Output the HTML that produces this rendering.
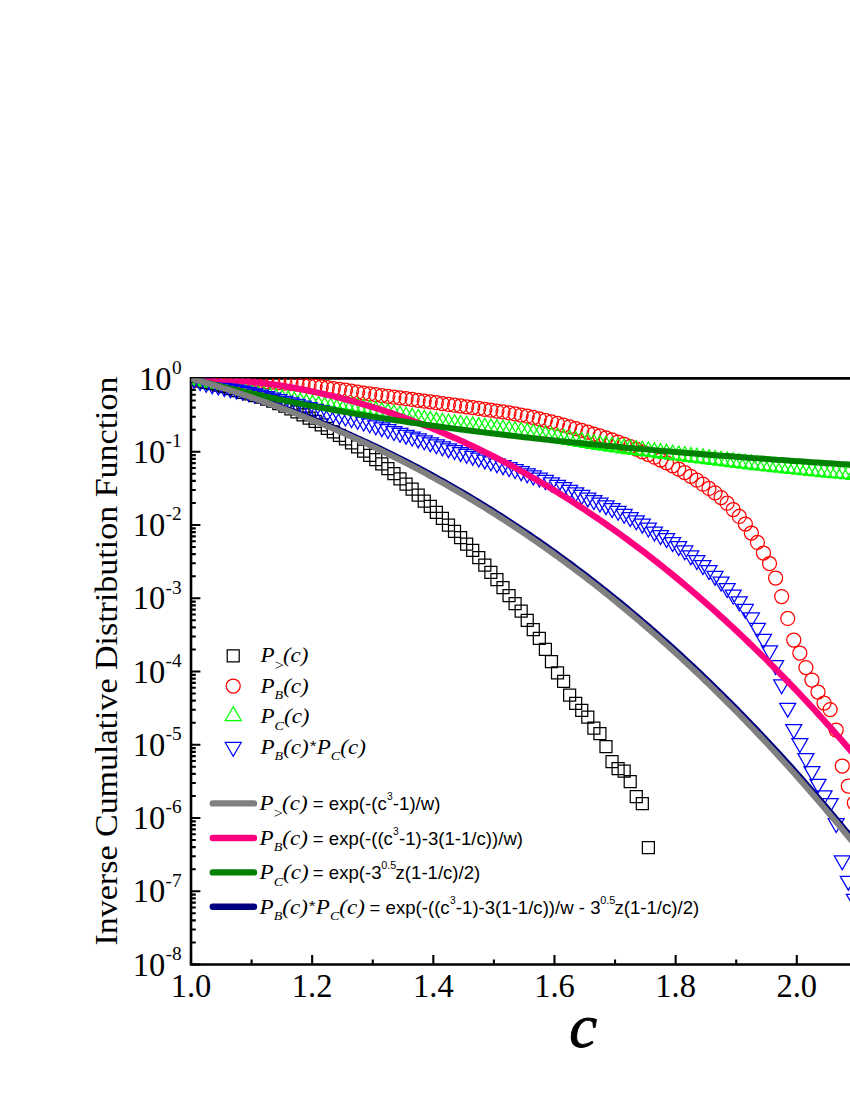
<!DOCTYPE html>
<html><head><meta charset="utf-8"><title>Inverse Cumulative Distribution Function</title>
<style>html,body{margin:0;padding:0;background:#fff}body{width:850px;height:1100px;overflow:hidden;position:relative}svg{position:absolute;left:0;top:0;display:block}text{font-family:"Liberation Serif",serif;fill:#000}.s{font-family:"Liberation Sans",sans-serif}.i{font-style:italic}</style></head><body>
<svg width="850" height="1100" viewBox="0 0 850 1100">
<rect width="850" height="1100" fill="#fff"/>
<defs><clipPath id="cp"><rect x="191.3" y="378.6" width="700" height="585.9"/></clipPath></defs>
<g fill="none" stroke="#000">
<path d="M860 378.4H191V964.5H860" stroke-width="2.6" stroke-linejoin="miter"/>
<path d="M191 378.5h9.4M191 429.7h4.8M191 416.8h4.8M191 407.65h4.8M191 400.55h4.8M191 394.75h4.8M191 389.85h4.8M191 385.6h4.8M191 381.85h4.8M191 451.75h9.4M191 502.95h4.8M191 490.05h4.8M191 480.9h4.8M191 473.8h4.8M191 468h4.8M191 463.1h4.8M191 458.85h4.8M191 455.1h4.8M191 525h9.4M191 576.2h4.8M191 563.3h4.8M191 554.15h4.8M191 547.05h4.8M191 541.25h4.8M191 536.35h4.8M191 532.1h4.8M191 528.35h4.8M191 598.25h9.4M191 649.45h4.8M191 636.55h4.8M191 627.4h4.8M191 620.3h4.8M191 614.5h4.8M191 609.6h4.8M191 605.35h4.8M191 601.6h4.8M191 671.5h9.4M191 722.7h4.8M191 709.8h4.8M191 700.65h4.8M191 693.55h4.8M191 687.75h4.8M191 682.85h4.8M191 678.6h4.8M191 674.85h4.8M191 744.75h9.4M191 795.95h4.8M191 783.05h4.8M191 773.9h4.8M191 766.8h4.8M191 761h4.8M191 756.1h4.8M191 751.85h4.8M191 748.1h4.8M191 818h9.4M191 869.2h4.8M191 856.3h4.8M191 847.15h4.8M191 840.05h4.8M191 834.25h4.8M191 829.35h4.8M191 825.1h4.8M191 821.35h4.8M191 891.25h9.4M191 942.45h4.8M191 929.55h4.8M191 920.4h4.8M191 913.3h4.8M191 907.5h4.8M191 902.6h4.8M191 898.35h4.8M191 894.6h4.8M191 964.5h9.4M191 964.5v-9.6M251.58 964.5v-5M312.16 964.5v-9.6M372.74 964.5v-5M433.32 964.5v-9.6M493.9 964.5v-5M554.48 964.5v-9.6M615.06 964.5v-5M675.64 964.5v-9.6M736.22 964.5v-5M796.8 964.5v-9.6M857.38 964.5v-5" stroke-width="2.1"/>
</g>
<g clip-path="url(#cp)" fill="none" stroke-width="1.25">
<path d="M188.03 374h12v12h-12zM194.09 375.07h12v12h-12zM200.15 376.28h12v12h-12zM206.2 377.62h12v12h-12zM212.26 379.06h12v12h-12zM218.32 380.73h12v12h-12zM224.38 382.6h12v12h-12zM230.44 384.52h12v12h-12zM236.49 386.34h12v12h-12zM242.55 387.97h12v12h-12zM248.61 389.53h12v12h-12zM254.67 391.17h12v12h-12zM260.73 393.04h12v12h-12zM266.78 395.21h12v12h-12zM272.84 397.61h12v12h-12zM278.9 400.21h12v12h-12zM284.96 402.96h12v12h-12zM291.02 405.8h12v12h-12zM297.07 408.8h12v12h-12zM303.13 412h12v12h-12zM309.19 415.35h12v12h-12zM315.25 418.8h12v12h-12zM321.31 422.3h12v12h-12zM327.36 425.81h12v12h-12zM333.42 429.33h12v12h-12zM339.48 432.96h12v12h-12zM345.54 436.75h12v12h-12zM351.6 440.8h12v12h-12zM357.65 445.05h12v12h-12zM363.71 449.35h12v12h-12zM369.77 453.63h12v12h-12zM375.83 457.98h12v12h-12zM381.89 462.57h12v12h-12zM387.94 467.56h12v12h-12zM394 472.81h12v12h-12zM400.06 478h12v12h-12zM406.12 483h12v12h-12zM412.18 489h12v12h-12zM418.23 495h12v12h-12zM424.29 500.4h12v12h-12zM430.35 506.4h12v12h-12zM436.41 512.4h12v12h-12zM442.47 519h12v12h-12zM448.52 525.4h12v12h-12zM454.58 531.6h12v12h-12zM460.64 538h12v12h-12zM466.7 544.4h12v12h-12zM472.76 551.6h12v12h-12zM478.81 559h12v12h-12zM484.87 566.4h12v12h-12zM490.93 573.6h12v12h-12zM496.99 581.6h12v12h-12zM503.05 589.6h12v12h-12zM509.1 597.6h12v12h-12zM515.16 605h12v12h-12zM521.22 614.4h12v12h-12zM527.28 623.6h12v12h-12zM533.34 632.4h12v12h-12zM539.39 643.3h12v12h-12zM545.45 655.5h12v12h-12zM551.51 666.8h12v12h-12zM557.57 675.4h12v12h-12zM563.63 689h12v12h-12zM569.68 697.4h12v12h-12zM575.74 704.4h12v12h-12zM581.8 711h12v12h-12zM587.86 722h12v12h-12zM593.92 727.6h12v12h-12zM599.97 740.6h12v12h-12zM606.03 755.6h12v12h-12zM612.09 762.6h12v12h-12zM618.15 765.2h12v12h-12zM624.21 775.6h12v12h-12zM630.26 790.6h12v12h-12zM636.32 797.6h12v12h-12zM642.38 841.6h12v12h-12z" stroke="#000"/>
<path d="M187.03 379.5a7 7 0 1 0 14 0a7 7 0 1 0 -14 0zM193.09 379.56a7 7 0 1 0 14 0a7 7 0 1 0 -14 0zM199.15 379.65a7 7 0 1 0 14 0a7 7 0 1 0 -14 0zM205.2 379.77a7 7 0 1 0 14 0a7 7 0 1 0 -14 0zM211.26 379.92a7 7 0 1 0 14 0a7 7 0 1 0 -14 0zM217.32 380.09a7 7 0 1 0 14 0a7 7 0 1 0 -14 0zM223.38 380.29a7 7 0 1 0 14 0a7 7 0 1 0 -14 0zM229.44 380.49a7 7 0 1 0 14 0a7 7 0 1 0 -14 0zM235.49 380.72a7 7 0 1 0 14 0a7 7 0 1 0 -14 0zM241.55 380.94a7 7 0 1 0 14 0a7 7 0 1 0 -14 0zM247.61 381.19a7 7 0 1 0 14 0a7 7 0 1 0 -14 0zM253.67 381.49a7 7 0 1 0 14 0a7 7 0 1 0 -14 0zM259.73 381.83a7 7 0 1 0 14 0a7 7 0 1 0 -14 0zM265.78 382.22a7 7 0 1 0 14 0a7 7 0 1 0 -14 0zM271.84 382.64a7 7 0 1 0 14 0a7 7 0 1 0 -14 0zM277.9 383.1a7 7 0 1 0 14 0a7 7 0 1 0 -14 0zM283.96 383.58a7 7 0 1 0 14 0a7 7 0 1 0 -14 0zM290.02 384.12a7 7 0 1 0 14 0a7 7 0 1 0 -14 0zM296.07 384.73a7 7 0 1 0 14 0a7 7 0 1 0 -14 0zM302.13 385.4a7 7 0 1 0 14 0a7 7 0 1 0 -14 0zM308.19 386.12a7 7 0 1 0 14 0a7 7 0 1 0 -14 0zM314.25 386.89a7 7 0 1 0 14 0a7 7 0 1 0 -14 0zM320.31 387.68a7 7 0 1 0 14 0a7 7 0 1 0 -14 0zM326.36 388.5a7 7 0 1 0 14 0a7 7 0 1 0 -14 0zM332.42 389.32a7 7 0 1 0 14 0a7 7 0 1 0 -14 0zM338.48 390.21a7 7 0 1 0 14 0a7 7 0 1 0 -14 0zM344.54 391.18a7 7 0 1 0 14 0a7 7 0 1 0 -14 0zM350.6 392.14a7 7 0 1 0 14 0a7 7 0 1 0 -14 0zM356.65 393.03a7 7 0 1 0 14 0a7 7 0 1 0 -14 0zM362.71 393.88a7 7 0 1 0 14 0a7 7 0 1 0 -14 0zM368.77 394.71a7 7 0 1 0 14 0a7 7 0 1 0 -14 0zM374.83 395.53a7 7 0 1 0 14 0a7 7 0 1 0 -14 0zM380.89 396.33a7 7 0 1 0 14 0a7 7 0 1 0 -14 0zM386.94 397.12a7 7 0 1 0 14 0a7 7 0 1 0 -14 0zM393 397.9a7 7 0 1 0 14 0a7 7 0 1 0 -14 0zM399.06 398.68a7 7 0 1 0 14 0a7 7 0 1 0 -14 0zM405.12 399.47a7 7 0 1 0 14 0a7 7 0 1 0 -14 0zM411.18 400.25a7 7 0 1 0 14 0a7 7 0 1 0 -14 0zM417.23 401.05a7 7 0 1 0 14 0a7 7 0 1 0 -14 0zM423.29 401.86a7 7 0 1 0 14 0a7 7 0 1 0 -14 0zM429.35 402.69a7 7 0 1 0 14 0a7 7 0 1 0 -14 0zM435.41 403.54a7 7 0 1 0 14 0a7 7 0 1 0 -14 0zM441.47 404.37a7 7 0 1 0 14 0a7 7 0 1 0 -14 0zM447.52 405.19a7 7 0 1 0 14 0a7 7 0 1 0 -14 0zM453.58 405.99a7 7 0 1 0 14 0a7 7 0 1 0 -14 0zM459.64 406.8a7 7 0 1 0 14 0a7 7 0 1 0 -14 0zM465.7 407.61a7 7 0 1 0 14 0a7 7 0 1 0 -14 0zM471.76 408.43a7 7 0 1 0 14 0a7 7 0 1 0 -14 0zM477.81 409.27a7 7 0 1 0 14 0a7 7 0 1 0 -14 0zM483.87 410.14a7 7 0 1 0 14 0a7 7 0 1 0 -14 0zM489.93 411.04a7 7 0 1 0 14 0a7 7 0 1 0 -14 0zM495.99 411.97a7 7 0 1 0 14 0a7 7 0 1 0 -14 0zM502.05 412.95a7 7 0 1 0 14 0a7 7 0 1 0 -14 0zM508.1 413.98a7 7 0 1 0 14 0a7 7 0 1 0 -14 0zM514.16 415.08a7 7 0 1 0 14 0a7 7 0 1 0 -14 0zM520.22 416.23a7 7 0 1 0 14 0a7 7 0 1 0 -14 0zM526.28 417.49a7 7 0 1 0 14 0a7 7 0 1 0 -14 0zM532.34 418.85a7 7 0 1 0 14 0a7 7 0 1 0 -14 0zM538.39 420.3a7 7 0 1 0 14 0a7 7 0 1 0 -14 0zM544.45 421.82a7 7 0 1 0 14 0a7 7 0 1 0 -14 0zM550.51 423.43a7 7 0 1 0 14 0a7 7 0 1 0 -14 0zM556.57 425.09a7 7 0 1 0 14 0a7 7 0 1 0 -14 0zM562.63 426.82a7 7 0 1 0 14 0a7 7 0 1 0 -14 0zM568.68 428.59a7 7 0 1 0 14 0a7 7 0 1 0 -14 0zM574.74 430.4a7 7 0 1 0 14 0a7 7 0 1 0 -14 0zM580.8 432.24a7 7 0 1 0 14 0a7 7 0 1 0 -14 0zM586.86 434.1a7 7 0 1 0 14 0a7 7 0 1 0 -14 0zM592.92 435.97a7 7 0 1 0 14 0a7 7 0 1 0 -14 0zM598.97 437.9a7 7 0 1 0 14 0a7 7 0 1 0 -14 0zM605.03 439.92a7 7 0 1 0 14 0a7 7 0 1 0 -14 0zM611.09 442.04a7 7 0 1 0 14 0a7 7 0 1 0 -14 0zM617.15 444.26a7 7 0 1 0 14 0a7 7 0 1 0 -14 0zM623.21 446.58a7 7 0 1 0 14 0a7 7 0 1 0 -14 0zM629.26 449.09a7 7 0 1 0 14 0a7 7 0 1 0 -14 0zM635.32 451.77a7 7 0 1 0 14 0a7 7 0 1 0 -14 0zM641.38 454.49a7 7 0 1 0 14 0a7 7 0 1 0 -14 0zM647.44 457.22a7 7 0 1 0 14 0a7 7 0 1 0 -14 0zM653.5 460a7 7 0 1 0 14 0a7 7 0 1 0 -14 0zM659.55 462.8a7 7 0 1 0 14 0a7 7 0 1 0 -14 0zM665.61 465.8a7 7 0 1 0 14 0a7 7 0 1 0 -14 0zM671.67 469a7 7 0 1 0 14 0a7 7 0 1 0 -14 0zM677.73 472.5a7 7 0 1 0 14 0a7 7 0 1 0 -14 0zM683.79 476.3a7 7 0 1 0 14 0a7 7 0 1 0 -14 0zM689.84 480.2a7 7 0 1 0 14 0a7 7 0 1 0 -14 0zM695.9 484.2a7 7 0 1 0 14 0a7 7 0 1 0 -14 0zM701.96 488.4a7 7 0 1 0 14 0a7 7 0 1 0 -14 0zM708.02 492.8a7 7 0 1 0 14 0a7 7 0 1 0 -14 0zM714.08 497.6a7 7 0 1 0 14 0a7 7 0 1 0 -14 0zM720.13 503.2a7 7 0 1 0 14 0a7 7 0 1 0 -14 0zM726.19 509.5a7 7 0 1 0 14 0a7 7 0 1 0 -14 0zM732.25 516.4a7 7 0 1 0 14 0a7 7 0 1 0 -14 0zM738.31 524a7 7 0 1 0 14 0a7 7 0 1 0 -14 0zM744.37 533a7 7 0 1 0 14 0a7 7 0 1 0 -14 0zM750.42 542.4a7 7 0 1 0 14 0a7 7 0 1 0 -14 0zM756.48 553a7 7 0 1 0 14 0a7 7 0 1 0 -14 0zM762.54 563.5a7 7 0 1 0 14 0a7 7 0 1 0 -14 0zM768.6 578a7 7 0 1 0 14 0a7 7 0 1 0 -14 0zM774.66 596.6a7 7 0 1 0 14 0a7 7 0 1 0 -14 0zM780.71 618.4a7 7 0 1 0 14 0a7 7 0 1 0 -14 0zM786.77 640a7 7 0 1 0 14 0a7 7 0 1 0 -14 0zM792.83 653a7 7 0 1 0 14 0a7 7 0 1 0 -14 0zM798.89 667.6a7 7 0 1 0 14 0a7 7 0 1 0 -14 0zM804.95 680a7 7 0 1 0 14 0a7 7 0 1 0 -14 0zM811 692a7 7 0 1 0 14 0a7 7 0 1 0 -14 0zM817.06 703a7 7 0 1 0 14 0a7 7 0 1 0 -14 0zM823.12 709.6a7 7 0 1 0 14 0a7 7 0 1 0 -14 0zM829.18 730a7 7 0 1 0 14 0a7 7 0 1 0 -14 0zM835.24 766a7 7 0 1 0 14 0a7 7 0 1 0 -14 0zM841.29 786a7 7 0 1 0 14 0a7 7 0 1 0 -14 0zM847.35 803a7 7 0 1 0 14 0a7 7 0 1 0 -14 0z" stroke="#f00"/>
<path d="M194.03 370.25l8 13.9h-16zM200.09 371.22l8 13.9h-16zM206.15 372.18l8 13.9h-16zM212.2 373.15l8 13.9h-16zM218.26 374.13l8 13.9h-16zM224.32 375.12l8 13.9h-16zM230.38 376.11l8 13.9h-16zM236.44 377.11l8 13.9h-16zM242.49 378.12l8 13.9h-16zM248.55 379.13l8 13.9h-16zM254.61 380.15l8 13.9h-16zM260.67 381.17l8 13.9h-16zM266.73 382.19l8 13.9h-16zM272.78 383.22l8 13.9h-16zM278.84 384.25l8 13.9h-16zM284.9 385.29l8 13.9h-16zM290.96 386.33l8 13.9h-16zM297.02 387.37l8 13.9h-16zM303.07 388.42l8 13.9h-16zM309.13 389.47l8 13.9h-16zM315.19 390.52l8 13.9h-16zM321.25 391.57l8 13.9h-16zM327.31 392.63l8 13.9h-16zM333.36 393.69l8 13.9h-16zM339.42 394.75l8 13.9h-16zM345.48 395.82l8 13.9h-16zM351.54 396.93l8 13.9h-16zM357.6 398.06l8 13.9h-16zM363.65 399.2l8 13.9h-16zM369.71 400.36l8 13.9h-16zM375.77 401.52l8 13.9h-16zM381.83 402.69l8 13.9h-16zM387.89 403.85l8 13.9h-16zM393.94 405l8 13.9h-16zM400 406.14l8 13.9h-16zM406.06 407.25l8 13.9h-16zM412.12 408.34l8 13.9h-16zM418.18 409.4l8 13.9h-16zM424.23 410.41l8 13.9h-16zM430.29 411.39l8 13.9h-16zM436.35 412.32l8 13.9h-16zM442.41 413.19l8 13.9h-16zM448.47 414.01l8 13.9h-16zM454.52 414.78l8 13.9h-16zM460.58 415.52l8 13.9h-16zM466.64 416.23l8 13.9h-16zM472.7 416.91l8 13.9h-16zM478.76 417.58l8 13.9h-16zM484.81 418.24l8 13.9h-16zM490.87 418.91l8 13.9h-16zM496.93 419.58l8 13.9h-16zM502.99 420.27l8 13.9h-16zM509.05 420.99l8 13.9h-16zM515.1 421.74l8 13.9h-16zM521.16 422.52l8 13.9h-16zM527.22 423.36l8 13.9h-16zM533.28 424.26l8 13.9h-16zM539.34 425.22l8 13.9h-16zM545.39 426.22l8 13.9h-16zM551.45 427.25l8 13.9h-16zM557.51 428.3l8 13.9h-16zM563.57 429.37l8 13.9h-16zM569.63 430.44l8 13.9h-16zM575.68 431.5l8 13.9h-16zM581.74 432.54l8 13.9h-16zM587.8 433.55l8 13.9h-16zM593.86 434.52l8 13.9h-16zM599.92 435.44l8 13.9h-16zM605.97 436.32l8 13.9h-16zM612.03 437.18l8 13.9h-16zM618.09 438.03l8 13.9h-16zM624.15 438.86l8 13.9h-16zM630.21 439.68l8 13.9h-16zM636.26 440.48l8 13.9h-16zM642.32 441.27l8 13.9h-16zM648.38 442.06l8 13.9h-16zM654.44 442.83l8 13.9h-16zM660.5 443.6l8 13.9h-16zM666.55 444.37l8 13.9h-16zM672.61 445.13l8 13.9h-16zM678.67 445.88l8 13.9h-16zM684.73 446.64l8 13.9h-16zM690.79 447.4l8 13.9h-16zM696.84 448.15l8 13.9h-16zM702.9 448.92l8 13.9h-16zM708.96 449.68l8 13.9h-16zM715.02 450.45l8 13.9h-16zM721.08 451.21l8 13.9h-16zM727.13 451.97l8 13.9h-16zM733.19 452.72l8 13.9h-16zM739.25 453.47l8 13.9h-16zM745.31 454.21l8 13.9h-16zM751.37 454.93l8 13.9h-16zM757.42 455.64l8 13.9h-16zM763.48 456.33l8 13.9h-16zM769.54 457l8 13.9h-16zM775.6 457.66l8 13.9h-16zM781.66 458.3l8 13.9h-16zM787.71 458.95l8 13.9h-16zM793.77 459.58l8 13.9h-16zM799.83 460.2l8 13.9h-16zM805.89 460.82l8 13.9h-16zM811.95 461.42l8 13.9h-16zM818 462.02l8 13.9h-16zM824.06 462.6l8 13.9h-16zM830.12 463.18l8 13.9h-16zM836.18 463.74l8 13.9h-16zM842.24 464.3l8 13.9h-16zM848.29 464.84l8 13.9h-16zM854.35 465.37l8 13.9h-16z" stroke="#0f0" stroke-linejoin="miter"/>
<path d="M186.03 374.45h16l-8 13.9zM192.09 376.55h16l-8 13.9zM198.15 378.35h16l-8 13.9zM204.2 379.81h16l-8 13.9zM210.26 381.15h16l-8 13.9zM216.32 382.52h16l-8 13.9zM222.38 383.85h16l-8 13.9zM228.44 385.06h16l-8 13.9zM234.49 386.22h16l-8 13.9zM240.55 387.45h16l-8 13.9zM246.61 388.8h16l-8 13.9zM252.67 390.21h16l-8 13.9zM258.73 391.67h16l-8 13.9zM264.78 393.18h16l-8 13.9zM270.84 394.72h16l-8 13.9zM276.9 396.3h16l-8 13.9zM282.96 397.89h16l-8 13.9zM289.02 399.49h16l-8 13.9zM295.07 401.1h16l-8 13.9zM301.13 402.71h16l-8 13.9zM307.19 404.3h16l-8 13.9zM313.25 405.87h16l-8 13.9zM319.31 407.42h16l-8 13.9zM325.36 408.97h16l-8 13.9zM331.42 410.52h16l-8 13.9zM337.48 412.09h16l-8 13.9zM343.54 413.7h16l-8 13.9zM349.6 415.37h16l-8 13.9zM355.65 417.11h16l-8 13.9zM361.71 418.95h16l-8 13.9zM367.77 420.84h16l-8 13.9zM373.83 422.77h16l-8 13.9zM379.89 424.7h16l-8 13.9zM385.94 426.59h16l-8 13.9zM392 428.43h16l-8 13.9zM398.06 430.27h16l-8 13.9zM404.12 432.11h16l-8 13.9zM410.18 433.98h16l-8 13.9zM416.23 435.9h16l-8 13.9zM422.29 437.88h16l-8 13.9zM428.35 439.87h16l-8 13.9zM434.41 441.82h16l-8 13.9zM440.47 443.75h16l-8 13.9zM446.52 445.65h16l-8 13.9zM452.58 447.53h16l-8 13.9zM458.64 449.4h16l-8 13.9zM464.7 451.27h16l-8 13.9zM470.76 453.13h16l-8 13.9zM476.81 455.01h16l-8 13.9zM482.87 456.89h16l-8 13.9zM488.93 458.8h16l-8 13.9zM494.99 460.73h16l-8 13.9zM501.05 462.69h16l-8 13.9zM507.1 464.69h16l-8 13.9zM513.16 466.73h16l-8 13.9zM519.22 468.82h16l-8 13.9zM525.28 470.98h16l-8 13.9zM531.34 473.21h16l-8 13.9zM537.39 475.49h16l-8 13.9zM543.45 477.84h16l-8 13.9zM549.51 480.25h16l-8 13.9zM555.57 482.74h16l-8 13.9zM561.63 485.28h16l-8 13.9zM567.68 487.86h16l-8 13.9zM573.74 490.44h16l-8 13.9zM579.8 493h16l-8 13.9zM585.86 495.54h16l-8 13.9zM591.92 498.13h16l-8 13.9zM597.97 500.78h16l-8 13.9zM604.03 503.57h16l-8 13.9zM610.09 506.47h16l-8 13.9zM616.15 509.47h16l-8 13.9zM622.21 512.59h16l-8 13.9zM628.26 515.84h16l-8 13.9zM634.32 519.23h16l-8 13.9zM640.38 523.04h16l-8 13.9zM646.44 527.04h16l-8 13.9zM652.5 530.65h16l-8 13.9zM658.55 533.55h16l-8 13.9zM664.61 537.65h16l-8 13.9zM670.67 541.55h16l-8 13.9zM676.73 545.95h16l-8 13.9zM682.79 550.95h16l-8 13.9zM688.84 555.65h16l-8 13.9zM694.9 560.65h16l-8 13.9zM700.96 565.65h16l-8 13.9zM707.02 571.25h16l-8 13.9zM713.08 577.15h16l-8 13.9zM719.13 583.55h16l-8 13.9zM725.19 590.05h16l-8 13.9zM731.25 596.85h16l-8 13.9zM737.31 604.45h16l-8 13.9zM743.37 612.95h16l-8 13.9zM749.42 623.25h16l-8 13.9zM755.48 634.25h16l-8 13.9zM761.54 645.85h16l-8 13.9zM767.6 660.65h16l-8 13.9zM773.66 679.85h16l-8 13.9zM779.71 703.25h16l-8 13.9zM785.77 724.65h16l-8 13.9zM791.83 738.65h16l-8 13.9zM797.89 753.65h16l-8 13.9zM803.95 766.65h16l-8 13.9zM810 779.25h16l-8 13.9zM816.06 790.85h16l-8 13.9zM822.12 798.65h16l-8 13.9zM828.18 818.65h16l-8 13.9zM834.24 855.85h16l-8 13.9zM840.29 876.25h16l-8 13.9zM846.35 894.25h16l-8 13.9z" stroke="#00f" stroke-linejoin="miter"/>
</g>
<g clip-path="url(#cp)" fill="none" stroke-linecap="butt" stroke-linejoin="round">
<path d="M191 378.3 L194.03 379.13 L197.06 379.97 L200.09 380.82 L203.12 381.68 L206.14 382.54 L209.17 383.42 L212.2 384.3 L215.23 385.2 L218.26 386.1 L221.29 387.01 L224.32 387.93 L227.35 388.86 L230.38 389.8 L233.41 390.75 L236.43 391.71 L239.46 392.67 L242.49 393.65 L245.52 394.64 L248.55 395.63 L251.58 396.64 L254.61 397.65 L257.64 398.68 L260.67 399.71 L263.7 400.75 L266.72 401.81 L269.75 402.87 L272.78 403.94 L275.81 405.03 L278.84 406.12 L281.87 407.22 L284.9 408.33 L287.93 409.46 L290.96 410.59 L293.99 411.73 L297.01 412.88 L300.04 414.05 L303.07 415.22 L306.1 416.4 L309.13 417.6 L312.16 418.8 L315.19 420.02 L318.22 421.24 L321.25 422.48 L324.28 423.72 L327.3 424.98 L330.33 426.25 L333.36 427.52 L336.39 428.81 L339.42 430.11 L342.45 431.42 L345.48 432.74 L348.51 434.07 L351.54 435.41 L354.57 436.77 L357.59 438.13 L360.62 439.51 L363.65 440.89 L366.68 442.29 L369.71 443.7 L372.74 445.12 L375.77 446.55 L378.8 447.99 L381.83 449.44 L384.86 450.91 L387.88 452.38 L390.91 453.87 L393.94 455.37 L396.97 456.88 L400 458.4 L403.03 459.93 L406.06 461.48 L409.09 463.03 L412.12 464.6 L415.15 466.18 L418.17 467.77 L421.2 469.38 L424.23 470.99 L427.26 472.62 L430.29 474.26 L433.32 475.91 L436.35 477.57 L439.38 479.25 L442.41 480.93 L445.44 482.63 L448.46 484.35 L451.49 486.07 L454.52 487.81 L457.55 489.55 L460.58 491.31 L463.61 493.09 L466.64 494.87 L469.67 496.67 L472.7 498.48 L475.73 500.3 L478.75 502.14 L481.78 503.99 L484.81 505.85 L487.84 507.72 L490.87 509.61 L493.9 511.51 L496.93 513.42 L499.96 515.35 L502.99 517.29 L506.02 519.24 L509.04 521.2 L512.07 523.18 L515.1 525.17 L518.13 527.17 L521.16 529.19 L524.19 531.22 L527.22 533.26 L530.25 535.32 L533.28 537.39 L536.31 539.47 L539.33 541.57 L542.36 543.68 L545.39 545.8 L548.42 547.94 L551.45 550.09 L554.48 552.25 L557.51 554.43 L560.54 556.63 L563.57 558.83 L566.6 561.05 L569.62 563.28 L572.65 565.53 L575.68 567.79 L578.71 570.07 L581.74 572.36 L584.77 574.66 L587.8 576.98 L590.83 579.31 L593.86 581.66 L596.89 584.02 L599.91 586.39 L602.94 588.78 L605.97 591.18 L609 593.6 L612.03 596.03 L615.06 598.48 L618.09 600.94 L621.12 603.41 L624.15 605.9 L627.18 608.41 L630.2 610.93 L633.23 613.46 L636.26 616.01 L639.29 618.58 L642.32 621.16 L645.35 623.75 L648.38 626.36 L651.41 628.98 L654.44 631.62 L657.47 634.27 L660.49 636.94 L663.52 639.63 L666.55 642.33 L669.58 645.04 L672.61 647.77 L675.64 650.52 L678.67 653.28 L681.7 656.05 L684.73 658.84 L687.76 661.65 L690.78 664.47 L693.81 667.31 L696.84 670.17 L699.87 673.04 L702.9 675.92 L705.93 678.82 L708.96 681.74 L711.99 684.67 L715.02 687.62 L718.05 690.58 L721.07 693.56 L724.1 696.56 L727.13 699.57 L730.16 702.6 L733.19 705.65 L736.22 708.71 L739.25 711.78 L742.28 714.88 L745.31 717.99 L748.34 721.11 L751.36 724.26 L754.39 727.42 L757.42 730.59 L760.45 733.78 L763.48 736.99 L766.51 740.22 L769.54 743.46 L772.57 746.72 L775.6 749.99 L778.63 753.28 L781.65 756.59 L784.68 759.92 L787.71 763.26 L790.74 766.62 L793.77 770 L796.8 773.39 L799.83 776.8 L802.86 780.23 L805.89 783.67 L808.92 787.14 L811.94 790.61 L814.97 794.11 L818 797.63 L821.03 801.16 L824.06 804.71 L827.09 808.27 L830.12 811.85 L833.15 815.46 L836.18 819.07 L839.21 822.71 L842.23 826.37 L845.26 830.04 L848.29 833.73 L851.32 837.43 L854.35 841.16 L857.38 844.9 L860.41 848.66 L863.44 852.44 L866.47 856.24 L869.5 860.05" stroke="#000080" stroke-width="6"/>
<path d="M191 378.5 L194.03 378.51 L197.06 378.53 L200.09 378.58 L203.12 378.64 L206.14 378.71 L209.17 378.8 L212.2 378.91 L215.23 379.04 L218.26 379.18 L221.29 379.34 L224.32 379.51 L227.35 379.7 L230.38 379.91 L233.41 380.13 L236.43 380.37 L239.46 380.63 L242.49 380.9 L245.52 381.19 L248.55 381.49 L251.58 381.81 L254.61 382.15 L257.64 382.5 L260.67 382.86 L263.7 383.24 L266.72 383.64 L269.75 384.05 L272.78 384.48 L275.81 384.93 L278.84 385.39 L281.87 385.86 L284.9 386.35 L287.93 386.86 L290.96 387.38 L293.99 387.91 L297.01 388.47 L300.04 389.03 L303.07 389.61 L306.1 390.21 L309.13 390.82 L312.16 391.45 L315.19 392.09 L318.22 392.75 L321.25 393.43 L324.28 394.11 L327.3 394.82 L330.33 395.54 L333.36 396.27 L336.39 397.02 L339.42 397.78 L342.45 398.56 L345.48 399.35 L348.51 400.16 L351.54 400.99 L354.57 401.82 L357.59 402.68 L360.62 403.55 L363.65 404.43 L366.68 405.33 L369.71 406.24 L372.74 407.17 L375.77 408.11 L378.8 409.07 L381.83 410.05 L384.86 411.03 L387.88 412.04 L390.91 413.05 L393.94 414.09 L396.97 415.14 L400 416.2 L403.03 417.28 L406.06 418.37 L409.09 419.48 L412.12 420.6 L415.15 421.74 L418.17 422.89 L421.2 424.06 L424.23 425.24 L427.26 426.44 L430.29 427.65 L433.32 428.88 L436.35 430.12 L439.38 431.38 L442.41 432.65 L445.44 433.94 L448.46 435.24 L451.49 436.56 L454.52 437.9 L457.55 439.24 L460.58 440.61 L463.61 441.99 L466.64 443.38 L469.67 444.79 L472.7 446.21 L475.73 447.65 L478.75 449.11 L481.78 450.58 L484.81 452.06 L487.84 453.56 L490.87 455.08 L493.9 456.61 L496.93 458.16 L499.96 459.72 L502.99 461.29 L506.02 462.89 L509.04 464.49 L512.07 466.12 L515.1 467.76 L518.13 469.41 L521.16 471.08 L524.19 472.76 L527.22 474.46 L530.25 476.18 L533.28 477.91 L536.31 479.66 L539.33 481.42 L542.36 483.2 L545.39 484.99 L548.42 486.8 L551.45 488.63 L554.48 490.47 L557.51 492.32 L560.54 494.2 L563.57 496.08 L566.6 497.99 L569.62 499.91 L572.65 501.84 L575.68 503.79 L578.71 505.76 L581.74 507.74 L584.77 509.74 L587.8 511.76 L590.83 513.79 L593.86 515.83 L596.89 517.9 L599.91 519.98 L602.94 522.07 L605.97 524.18 L609 526.31 L612.03 528.45 L615.06 530.61 L618.09 532.79 L621.12 534.98 L624.15 537.19 L627.18 539.41 L630.2 541.66 L633.23 543.91 L636.26 546.19 L639.29 548.48 L642.32 550.78 L645.35 553.11 L648.38 555.45 L651.41 557.8 L654.44 560.17 L657.47 562.56 L660.49 564.97 L663.52 567.39 L666.55 569.83 L669.58 572.29 L672.61 574.76 L675.64 577.25 L678.67 579.76 L681.7 582.28 L684.73 584.82 L687.76 587.38 L690.78 589.95 L693.81 592.54 L696.84 595.15 L699.87 597.77 L702.9 600.41 L705.93 603.07 L708.96 605.75 L711.99 608.44 L715.02 611.15 L718.05 613.88 L721.07 616.62 L724.1 619.39 L727.13 622.17 L730.16 624.96 L733.19 627.78 L736.22 630.61 L739.25 633.46 L742.28 636.32 L745.31 639.21 L748.34 642.11 L751.36 645.03 L754.39 647.96 L757.42 650.92 L760.45 653.89 L763.48 656.88 L766.51 659.89 L769.54 662.91 L772.57 665.95 L775.6 669.01 L778.63 672.09 L781.65 675.19 L784.68 678.3 L787.71 681.44 L790.74 684.59 L793.77 687.75 L796.8 690.94 L799.83 694.14 L802.86 697.37 L805.89 700.61 L808.92 703.87 L811.94 707.14 L814.97 710.44 L818 713.75 L821.03 717.09 L824.06 720.44 L827.09 723.81 L830.12 727.19 L833.15 730.6 L836.18 734.02 L839.21 737.47 L842.23 740.93 L845.26 744.41 L848.29 747.91 L851.32 751.42 L854.35 754.96 L857.38 758.52 L860.41 762.09 L863.44 765.68 L866.47 769.29 L869.5 772.93" stroke="#ff007f" stroke-width="6.3"/>
<path d="M191 378.5 L194.03 379.32 L197.06 380.14 L200.09 380.94 L203.12 381.74 L206.14 382.53 L209.17 383.31 L212.2 384.09 L215.23 384.86 L218.26 385.62 L221.29 386.37 L224.32 387.12 L227.35 387.86 L230.38 388.59 L233.41 389.31 L236.43 390.03 L239.46 390.74 L242.49 391.45 L245.52 392.15 L248.55 392.84 L251.58 393.53 L254.61 394.21 L257.64 394.88 L260.67 395.55 L263.7 396.21 L266.72 396.87 L269.75 397.52 L272.78 398.16 L275.81 398.8 L278.84 399.43 L281.87 400.06 L284.9 400.68 L287.93 401.3 L290.96 401.91 L293.99 402.52 L297.01 403.12 L300.04 403.72 L303.07 404.31 L306.1 404.89 L309.13 405.47 L312.16 406.05 L315.19 406.62 L318.22 407.19 L321.25 407.75 L324.28 408.31 L327.3 408.86 L330.33 409.41 L333.36 409.95 L336.39 410.49 L339.42 411.03 L342.45 411.56 L345.48 412.09 L348.51 412.61 L351.54 413.13 L354.57 413.64 L357.59 414.15 L360.62 414.66 L363.65 415.16 L366.68 415.66 L369.71 416.16 L372.74 416.65 L375.77 417.13 L378.8 417.62 L381.83 418.1 L384.86 418.57 L387.88 419.05 L390.91 419.51 L393.94 419.98 L396.97 420.44 L400 420.9 L403.03 421.36 L406.06 421.81 L409.09 422.26 L412.12 422.7 L415.15 423.14 L418.17 423.58 L421.2 424.02 L424.23 424.45 L427.26 424.88 L430.29 425.31 L433.32 425.73 L436.35 426.15 L439.38 426.57 L442.41 426.98 L445.44 427.39 L448.46 427.8 L451.49 428.21 L454.52 428.61 L457.55 429.01 L460.58 429.41 L463.61 429.8 L466.64 430.19 L469.67 430.58 L472.7 430.97 L475.73 431.35 L478.75 431.73 L481.78 432.11 L484.81 432.49 L487.84 432.86 L490.87 433.23 L493.9 433.6 L496.93 433.97 L499.96 434.33 L502.99 434.69 L506.02 435.05 L509.04 435.41 L512.07 435.76 L515.1 436.11 L518.13 436.46 L521.16 436.81 L524.19 437.15 L527.22 437.5 L530.25 437.84 L533.28 438.18 L536.31 438.51 L539.33 438.85 L542.36 439.18 L545.39 439.51 L548.42 439.84 L551.45 440.16 L554.48 440.49 L557.51 440.81 L560.54 441.13 L563.57 441.45 L566.6 441.76 L569.62 442.08 L572.65 442.39 L575.68 442.7 L578.71 443.01 L581.74 443.31 L584.77 443.62 L587.8 443.92 L590.83 444.22 L593.86 444.52 L596.89 444.82 L599.91 445.11 L602.94 445.41 L605.97 445.7 L609 445.99 L612.03 446.28 L615.06 446.56 L618.09 446.85 L621.12 447.13 L624.15 447.42 L627.18 447.7 L630.2 447.97 L633.23 448.25 L636.26 448.53 L639.29 448.8 L642.32 449.07 L645.35 449.34 L648.38 449.61 L651.41 449.88 L654.44 450.15 L657.47 450.41 L660.49 450.67 L663.52 450.93 L666.55 451.2 L669.58 451.45 L672.61 451.71 L675.64 451.97 L678.67 452.22 L681.7 452.47 L684.73 452.73 L687.76 452.98 L690.78 453.22 L693.81 453.47 L696.84 453.72 L699.87 453.96 L702.9 454.21 L705.93 454.45 L708.96 454.69 L711.99 454.93 L715.02 455.17 L718.05 455.4 L721.07 455.64 L724.1 455.87 L727.13 456.11 L730.16 456.34 L733.19 456.57 L736.22 456.8 L739.25 457.03 L742.28 457.26 L745.31 457.48 L748.34 457.71 L751.36 457.93 L754.39 458.15 L757.42 458.37 L760.45 458.59 L763.48 458.81 L766.51 459.03 L769.54 459.25 L772.57 459.46 L775.6 459.68 L778.63 459.89 L781.65 460.1 L784.68 460.32 L787.71 460.53 L790.74 460.73 L793.77 460.94 L796.8 461.15 L799.83 461.36 L802.86 461.56 L805.89 461.77 L808.92 461.97 L811.94 462.17 L814.97 462.37 L818 462.57 L821.03 462.77 L824.06 462.97 L827.09 463.17 L830.12 463.36 L833.15 463.56 L836.18 463.75 L839.21 463.95 L842.23 464.14 L845.26 464.33 L848.29 464.52 L851.32 464.71 L854.35 464.9 L857.38 465.09 L860.41 465.27 L863.44 465.46 L866.47 465.64 L869.5 465.83" stroke="#008000" stroke-width="6"/>
<path d="M191 378.6 L194.03 379.46 L197.06 380.32 L200.09 381.19 L203.12 382.08 L206.14 382.97 L209.17 383.87 L212.2 384.78 L215.23 385.69 L218.26 386.62 L221.29 387.55 L224.32 388.5 L227.35 389.45 L230.38 390.41 L233.41 391.38 L236.43 392.36 L239.46 393.35 L242.49 394.35 L245.52 395.36 L248.55 396.38 L251.58 397.4 L254.61 398.44 L257.64 399.48 L260.67 400.54 L263.7 401.6 L266.72 402.68 L269.75 403.76 L272.78 404.85 L275.81 405.96 L278.84 407.07 L281.87 408.19 L284.9 409.32 L287.93 410.46 L290.96 411.61 L293.99 412.78 L297.01 413.95 L300.04 415.13 L303.07 416.32 L306.1 417.52 L309.13 418.73 L312.16 419.96 L315.19 421.19 L318.22 422.43 L321.25 423.68 L324.28 424.95 L327.3 426.22 L330.33 427.5 L333.36 428.8 L336.39 430.1 L339.42 431.42 L342.45 432.74 L345.48 434.08 L348.51 435.43 L351.54 436.79 L354.57 438.16 L357.59 439.54 L360.62 440.93 L363.65 442.33 L366.68 443.74 L369.71 445.16 L372.74 446.6 L375.77 448.04 L378.8 449.5 L381.83 450.97 L384.86 452.45 L387.88 453.94 L390.91 455.44 L393.94 456.95 L396.97 458.48 L400 460.01 L403.03 461.56 L406.06 463.12 L409.09 464.69 L412.12 466.27 L415.15 467.86 L418.17 469.47 L421.2 471.09 L424.23 472.71 L427.26 474.36 L430.29 476.01 L433.32 477.67 L436.35 479.35 L439.38 481.04 L442.41 482.74 L445.44 484.45 L448.46 486.17 L451.49 487.91 L454.52 489.66 L457.55 491.42 L460.58 493.19 L463.61 494.98 L466.64 496.77 L469.67 498.58 L472.7 500.41 L475.73 502.24 L478.75 504.09 L481.78 505.95 L484.81 507.82 L487.84 509.71 L490.87 511.61 L493.9 513.52 L496.93 515.44 L499.96 517.38 L502.99 519.33 L506.02 521.29 L509.04 523.26 L512.07 525.25 L515.1 527.25 L518.13 529.27 L521.16 531.3 L524.19 533.34 L527.22 535.39 L530.25 537.46 L533.28 539.54 L536.31 541.63 L539.33 543.74 L542.36 545.86 L545.39 547.99 L548.42 550.14 L551.45 552.3 L554.48 554.48 L557.51 556.66 L560.54 558.87 L563.57 561.08 L566.6 563.31 L569.62 565.55 L572.65 567.81 L575.68 570.08 L578.71 572.37 L581.74 574.67 L584.77 576.98 L587.8 579.3 L590.83 581.65 L593.86 584 L596.89 586.37 L599.91 588.75 L602.94 591.15 L605.97 593.56 L609 595.99 L612.03 598.43 L615.06 600.89 L618.09 603.36 L621.12 605.84 L624.15 608.34 L627.18 610.85 L630.2 613.38 L633.23 615.92 L636.26 618.48 L639.29 621.05 L642.32 623.64 L645.35 626.24 L648.38 628.86 L651.41 631.49 L654.44 634.14 L657.47 636.8 L660.49 639.48 L663.52 642.17 L666.55 644.88 L669.58 647.6 L672.61 650.34 L675.64 653.09 L678.67 655.86 L681.7 658.65 L684.73 661.44 L687.76 664.26 L690.78 667.09 L693.81 669.94 L696.84 672.8 L699.87 675.67 L702.9 678.57 L705.93 681.48 L708.96 684.4 L711.99 687.34 L715.02 690.3 L718.05 693.27 L721.07 696.25 L724.1 699.26 L727.13 702.28 L730.16 705.31 L733.19 708.37 L736.22 711.43 L739.25 714.52 L742.28 717.62 L745.31 720.74 L748.34 723.87 L751.36 727.02 L754.39 730.18 L757.42 733.37 L760.45 736.56 L763.48 739.78 L766.51 743.01 L769.54 746.26 L772.57 749.53 L775.6 752.81 L778.63 756.11 L781.65 759.42 L784.68 762.75 L787.71 766.1 L790.74 769.47 L793.77 772.85 L796.8 776.25 L799.83 779.67 L802.86 783.1 L805.89 786.55 L808.92 790.02 L811.94 793.51 L814.97 797.01 L818 800.53 L821.03 804.07 L824.06 807.62 L827.09 811.19 L830.12 814.78 L833.15 818.39 L836.18 822.02 L839.21 825.66 L842.23 829.32 L845.26 833 L848.29 836.69 L851.32 840.4 L854.35 844.14 L857.38 847.88 L860.41 851.65 L863.44 855.44 L866.47 859.24 L869.5 863.06" stroke="#808080" stroke-width="6"/>
</g>
<g transform="translate(181.6 389.5) scale(0.985 1)"><text x="0" y="0" text-anchor="end" font-size="33">10<tspan font-size="19.6" dy="-15.6" dx="0.4">0</tspan></text></g>
<g transform="translate(181.6 462.75) scale(0.985 1)"><text x="0" y="0" text-anchor="end" font-size="33">10<tspan font-size="19.6" dy="-15.6" dx="0.4">-1</tspan></text></g>
<g transform="translate(181.6 536) scale(0.985 1)"><text x="0" y="0" text-anchor="end" font-size="33">10<tspan font-size="19.6" dy="-15.6" dx="0.4">-2</tspan></text></g>
<g transform="translate(181.6 609.25) scale(0.985 1)"><text x="0" y="0" text-anchor="end" font-size="33">10<tspan font-size="19.6" dy="-15.6" dx="0.4">-3</tspan></text></g>
<g transform="translate(181.6 682.5) scale(0.985 1)"><text x="0" y="0" text-anchor="end" font-size="33">10<tspan font-size="19.6" dy="-15.6" dx="0.4">-4</tspan></text></g>
<g transform="translate(181.6 755.75) scale(0.985 1)"><text x="0" y="0" text-anchor="end" font-size="33">10<tspan font-size="19.6" dy="-15.6" dx="0.4">-5</tspan></text></g>
<g transform="translate(181.6 829) scale(0.985 1)"><text x="0" y="0" text-anchor="end" font-size="33">10<tspan font-size="19.6" dy="-15.6" dx="0.4">-6</tspan></text></g>
<g transform="translate(181.6 902.25) scale(0.985 1)"><text x="0" y="0" text-anchor="end" font-size="33">10<tspan font-size="19.6" dy="-15.6" dx="0.4">-7</tspan></text></g>
<g transform="translate(181.6 975.5) scale(0.985 1)"><text x="0" y="0" text-anchor="end" font-size="33">10<tspan font-size="19.6" dy="-15.6" dx="0.4">-8</tspan></text></g>
<g transform="translate(191 997.4) scale(0.995 1)"><text x="0" y="0" text-anchor="middle" font-size="32.7">1.0</text></g>
<g transform="translate(312.16 997.4) scale(0.995 1)"><text x="0" y="0" text-anchor="middle" font-size="32.7">1.2</text></g>
<g transform="translate(433.32 997.4) scale(0.995 1)"><text x="0" y="0" text-anchor="middle" font-size="32.7">1.4</text></g>
<g transform="translate(554.48 997.4) scale(0.995 1)"><text x="0" y="0" text-anchor="middle" font-size="32.7">1.6</text></g>
<g transform="translate(675.64 997.4) scale(0.995 1)"><text x="0" y="0" text-anchor="middle" font-size="32.7">1.8</text></g>
<g transform="translate(796.8 997.4) scale(0.995 1)"><text x="0" y="0" text-anchor="middle" font-size="32.7">2.0</text></g>
<text transform="translate(117.3 661) rotate(-90)" text-anchor="middle" font-size="31.5" textLength="569" lengthAdjust="spacingAndGlyphs">Inverse Cumulative Distribution Function</text>
<g transform="translate(583.2 1047.3) scale(1.03 1)"><text x="0" y="0" text-anchor="middle" font-size="61" class="i" stroke="#000" stroke-width="0.9">c</text></g>
<g fill="none" stroke-width="1.25">
<path d="M227.2 649.8h12v12h-12z" stroke="#000"/>
<path d="M226.2 686a7 7 0 1 0 14 0a7 7 0 1 0 -14 0z" stroke="#f00"/>
<path d="M233.2 706.65l8 13.9h-16z" stroke="#0f0"/>
<path d="M225.2 742.45h16l-8 13.9z" stroke="#00f"/>
</g>
<g transform="translate(260.5 661.8) scale(1.125 1)"><text x="0" y="0" font-size="20.5" class="i">P<tspan font-size="14.5" dy="8.2" dx="-0.8">&gt;</tspan><tspan dy="-8.2" dx="-1.6">(c)</tspan></text></g>
<g transform="translate(260.5 692.6) scale(1.125 1)"><text x="0" y="0" font-size="20.5" class="i">P<tspan font-size="12.5" dy="6.6">B</tspan><tspan dy="-6.6">(c)</tspan></text></g>
<g transform="translate(260.5 723) scale(1.125 1)"><text x="0" y="0" font-size="20.5" class="i">P<tspan font-size="12.5" dy="6.6">C</tspan><tspan dy="-6.6">(c)</tspan></text></g>
<g transform="translate(260.5 753.5) scale(1.125 1)"><text x="0" y="0" font-size="20.5" class="i">P<tspan font-size="12.5" dy="6.6">B</tspan><tspan dy="-6.6">(c)</tspan><tspan class="s" font-style="normal" font-size="15.5" dy="-3" dx="0.8">*</tspan><tspan dy="3" dx="0.3" font-size="1">​</tspan>P<tspan font-size="12.5" dy="6.6">C</tspan><tspan dy="-6.6">(c)</tspan></text></g>
<g fill="none" stroke-width="6.4" stroke-linecap="round">
<path d="M212.8 803.4H254" stroke="#808080"/>
<path d="M212.8 838H254" stroke="#ff007f"/>
<path d="M212.8 872.4H254" stroke="#008000"/>
<path d="M212.8 906.8H254" stroke="#000080"/>
</g>
<g transform="translate(259.6 810.2) scale(1.125 1)"><text x="0" y="0" font-size="20.5" class="i">P<tspan font-size="14.5" dy="8.2" dx="-0.8">&gt;</tspan><tspan dy="-8.2" dx="-1.6">(c)</tspan></text></g>
<text x="312.8" y="810.2" font-size="18.6" class="s">= exp(-(c<tspan font-size="10.2" dy="-10" dx="0.2">3</tspan><tspan dy="10" dx="0.3" font-size="1">​</tspan>-1)/w)</text>
<g transform="translate(259.6 844.8) scale(1.125 1)"><text x="0" y="0" font-size="20.5" class="i">P<tspan font-size="12.5" dy="6.6">B</tspan><tspan dy="-6.6">(c)</tspan></text></g>
<text x="312.8" y="844.8" font-size="18.6" class="s">= exp(-((c<tspan font-size="10.2" dy="-10" dx="0.2">3</tspan><tspan dy="10" dx="0.3" font-size="1">​</tspan>-1)-3(1-1/c))/w)</text>
<g transform="translate(259.6 879.2) scale(1.125 1)"><text x="0" y="0" font-size="20.5" class="i">P<tspan font-size="12.5" dy="6.6">C</tspan><tspan dy="-6.6">(c)</tspan></text></g>
<text x="312.8" y="879.2" font-size="18.6" class="s">= exp(-3<tspan font-size="10.8" dy="-10" dx="-0.2">0.5</tspan><tspan dy="10" dx="-0.8" font-size="1">​</tspan>z(1-1/c)/2)</text>
<g transform="translate(259.6 913.6) scale(1.125 1)"><text x="0" y="0" font-size="20.5" class="i">P<tspan font-size="12.5" dy="6.6">B</tspan><tspan dy="-6.6">(c)</tspan><tspan class="s" font-style="normal" font-size="15.5" dy="-3" dx="0.8">*</tspan><tspan dy="3" dx="0.3" font-size="1">​</tspan>P<tspan font-size="12.5" dy="6.6">C</tspan><tspan dy="-6.6">(c)</tspan></text></g>
<text x="369.6" y="913.6" font-size="18.6" class="s">= exp(-((c<tspan font-size="10.2" dy="-10" dx="0.2">3</tspan><tspan dy="10" dx="0.3" font-size="1">​</tspan>-1)-3(1-1/c))/w - 3<tspan font-size="10.8" dy="-10" dx="-0.2">0.5</tspan><tspan dy="10" dx="-0.8" font-size="1">​</tspan>z(1-1/c)/2)</text>
</svg></body></html>
